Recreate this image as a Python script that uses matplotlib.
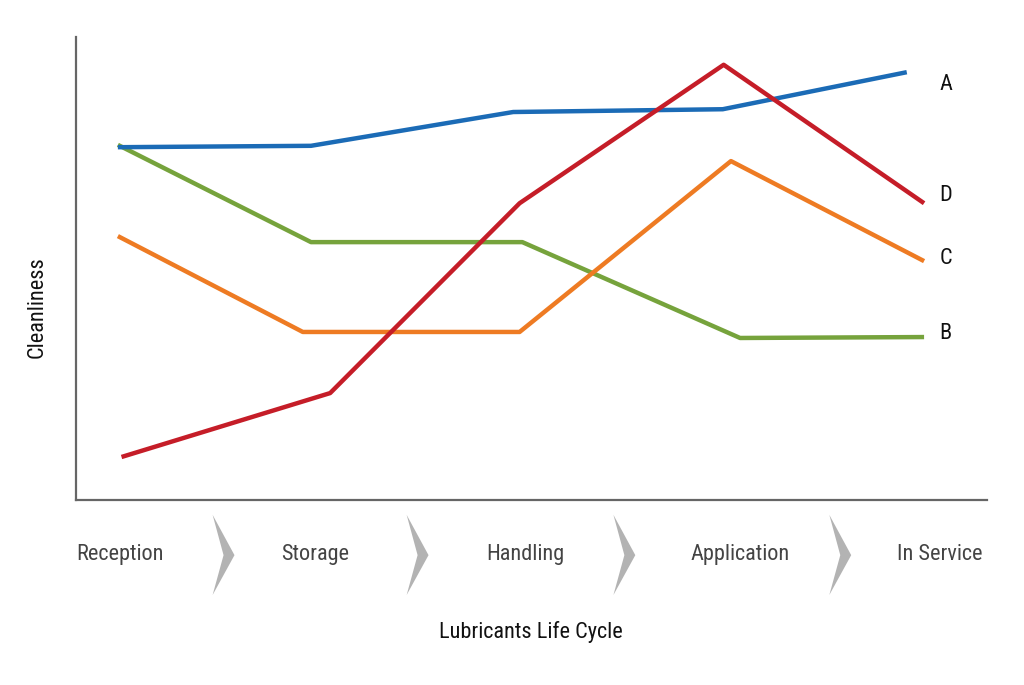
import matplotlib
matplotlib.use("Agg")
import matplotlib.pyplot as plt
from matplotlib.patches import Polygon
import matplotlib.transforms as mtransforms

plt.rcParams['font.family'] = ['Liberation Sans Narrow', 'DejaVu Sans Condensed',
                               'Roboto Condensed', 'Roboto', 'DejaVu Sans']
plt.rcParams['font.stretch'] = 'condensed'

# data (x on a 0-100 life-cycle scale, y = cleanliness, arbitrary units)
stages = ['Reception', 'Storage', 'Handling', 'Application', 'In Service']
stage_x = [4.8, 26.2, 49.3, 72.9, 94.8]

a_x = [4.6, 25.8, 48.0, 71.0, 91.2]
a_y = [76.2, 76.5, 83.8, 84.4, 92.4]
b_x = [4.6, 25.8, 49.0, 72.9, 93.1]
b_y = [76.7, 55.7, 55.7, 35.0, 35.2]
c_x = [4.6, 24.9, 48.7, 71.9, 93.1]
c_y = [57.0, 36.3, 36.3, 73.2, 51.6]
d_x = [5.0, 27.9, 48.7, 71.1, 93.1]
d_y = [9.3, 23.1, 64.1, 94.0, 64.1]

series = [
    ('A', a_x, a_y, '#1b6bb6', 89.8),
    ('B', b_x, b_y, '#76a33c', 36.0),
    ('C', c_x, c_y, '#ee7b23', 52.2),
    ('D', d_x, d_y, '#c51d28', 65.8),
]

fig = plt.figure(figsize=(10.24, 6.85), dpi=100)
ax = fig.add_axes([0.0742, 0.270, 0.8896, 0.676])

# red goes over blue where they cross
for name in ['B', 'C', 'A', 'D']:
    s = [t for t in series if t[0] == name][0]
    ax.plot(s[1], s[2], color=s[3], lw=3.2, solid_capstyle='butt')
    ax.text(94.8, s[4], s[0], fontsize=16, color='#111111', va='center', ha='left')

ax.set_xlim(0, 100)
ax.set_ylim(0, 100)
ax.set_xticks([])
ax.set_yticks([])
for side in ['top', 'right']:
    ax.spines[side].set_visible(False)
for side in ['left', 'bottom']:
    ax.spines[side].set_color('#666666')
    ax.spines[side].set_linewidth(1.6)

trans = mtransforms.blended_transform_factory(ax.transData, ax.transAxes)
for lab, x in zip(stages, stage_x):
    ax.text(x, -0.118, lab, transform=trans, fontsize=16, color='#444444',
            ha='center', va='center', clip_on=False)

# chevrons between stages
chev_left = [15.0, 36.3, 59.0, 82.7]
for cx in chev_left:
    pts = [(cx, -0.032), (cx + 2.4, -0.119), (cx, -0.205), (cx + 1.2, -0.119)]
    ax.add_patch(Polygon(pts, closed=True, transform=trans, facecolor='#b3b3b3',
                         edgecolor='none', clip_on=False))

ax.text(49.9, -0.284, 'Lubricants Life Cycle', transform=trans, fontsize=16,
        color='#111111', ha='center', va='center', clip_on=False)
fig.text(37 / 1024, 1 - 307 / 685, 'Cleanliness', rotation=90, fontsize=16,
         color='#111111', ha='center', va='center')

fig.savefig('out.png', dpi=100)
